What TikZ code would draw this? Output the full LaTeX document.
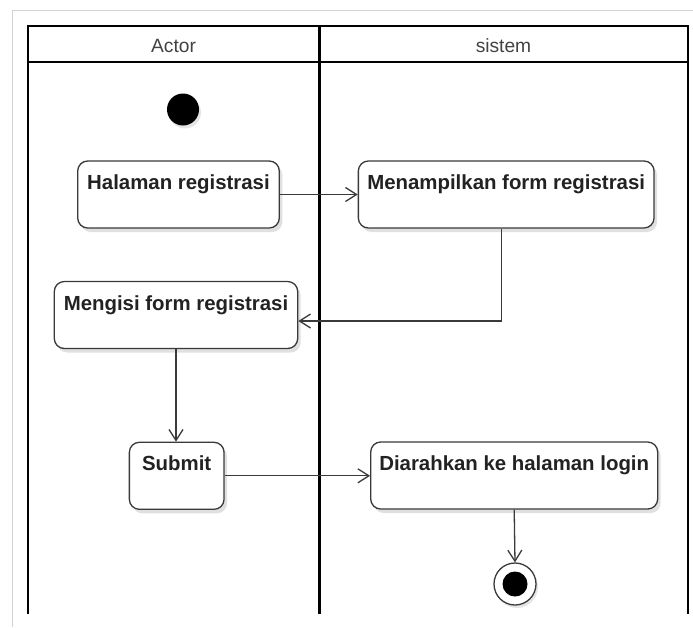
\documentclass[tikz,border=0pt]{standalone}
\usepackage{fontspec}
\setmainfont{Liberation Sans}
\usetikzlibrary{arrows.meta,shadows}
\definecolor{ink}{HTML}{222222}
\definecolor{edge}{HTML}{3A3A3A}
\definecolor{frame}{HTML}{D2D2D2}
\tikzset{
  lane/.style={line width=2.8pt, black},
  action/.style={draw=edge, line width=1.3pt, rounded corners=10pt, fill=white,
    font=\fontsize{20.4}{24}\selectfont\bfseries, text=ink,
    inner xsep=0pt, inner ysep=4pt, text height=24.5pt, text depth=34.5pt,
    drop shadow={shadow xshift=3pt, shadow yshift=-4pt, opacity=0.12, fill=black}},
  header/.style={font=\fontsize{19.2}{22}\selectfont, text=ink!85, anchor=base},
  flow/.style={draw=edge, line width=1.3pt,
    -{Straight Barb[length=11pt, width=14pt, line width=1.3pt]}},
}
\begin{document}
\begin{tikzpicture}[x=1pt, y=-1pt]
  \useasboundingbox (0,0) rectangle (693,627);
  \fill[white] (0,0) rectangle (693,627);
  % light outer frame
  \draw[frame, line width=1pt] (12.5,627) -- (12.5,10.5) -- (693,10.5);

  % swimlanes
  \draw[lane] (28,614) -- (28,26) -- (688,26) -- (688,614);
  \draw[lane] (28,62) -- (688,62);
  \draw[lane] (319.5,26) -- (319.5,614);
  \node[header] (hActor) at (173.5,52.3) {Actor};
  \node[header] (hSistem) at (503.5,52.3) {sistem};

  % start node
  \node[circle, fill=black, minimum size=32pt, inner sep=0pt,
        drop shadow={shadow xshift=2pt, shadow yshift=-3pt, opacity=0.1, fill=black}]
        (start) at (183,109.5) {};

  % actions
  \node[action, minimum width=201.6pt] (hal) at (178.5,194.5) {Halaman registrasi};
  \node[action, minimum width=295.7pt] (tampil) at (506.2,194.5) {Menampilkan form registrasi};
  \node[action, minimum width=243.4pt] (isi) at (176,315) {Mengisi form registrasi};
  \node[action, minimum width=94.7pt] (submit) at (176.7,475.8) {Submit};
  \node[action, minimum width=287pt] (arah) at (514.2,475.5) {Diarahkan ke halaman login};

  % final node
  \node[circle, draw=edge, line width=1.3pt, fill=white, minimum size=42pt, inner sep=0pt,
        drop shadow={shadow xshift=2pt, shadow yshift=-3pt, opacity=0.1, fill=black}]
        (fin) at (515,584) {};
  \fill[black] (fin.center) circle[radius=12.5pt];

  % control flow
  \draw[flow] (hal.east) -- (tampil.west);
  \draw[flow] ([xshift=-5pt]tampil.south) |- ([yshift=-6pt]isi.east);
  \draw[flow] (isi.south) -- (isi.south |- submit.north);
  \draw[flow] (submit.east) -- (submit.east -| arah.west);
  \draw[flow] (arah.south) -- (fin.north);
\end{tikzpicture}
\end{document}
